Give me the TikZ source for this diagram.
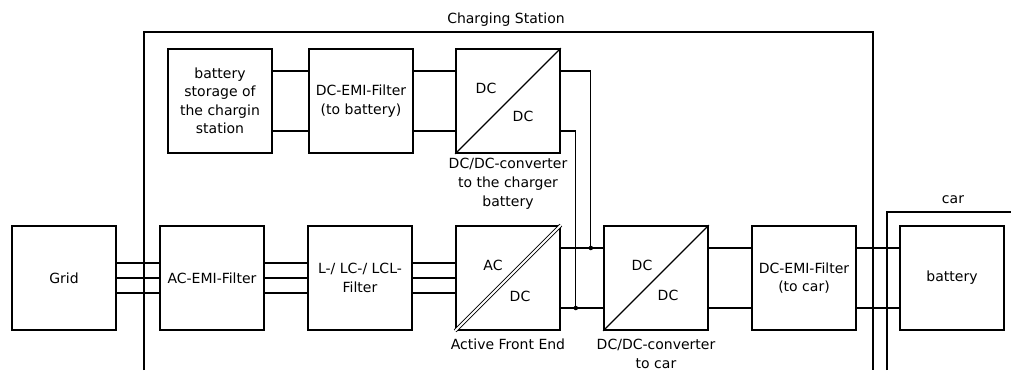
\documentclass[tikz,border=0pt]{standalone}
\usepackage{fontspec}
\setmainfont{DejaVu Sans}
\usetikzlibrary{positioning,calc}

\tikzset{
  block/.style={draw, line width=1.6pt, minimum width=104pt, minimum height=104pt,
    inner sep=2pt, align=center, font=\fontsize{14}{18.5}\selectfont},
  wire/.style={line width=1.3pt},
  caption/.style={inner sep=0pt, align=center, font=\fontsize{14}{19}\selectfont},
  junction/.style={circle, fill, inner sep=0pt, minimum size=4.5pt},
}

\begin{document}
\begin{tikzpicture}[x=1pt, y=-1pt, node distance=42.4pt]
    \useasboundingbox (0,0) rectangle (1011,370);

    % frames
    \draw[wire] (144,370) -- (144,32) -- (873,32) -- (873,370);
    \node[caption] (station) at (506,20) {Charging Station};
    \draw[wire] (887,370) |- (1011,212);
    \node[caption] (car) at (953,200) {car};

    % lower row
    \node[block] (grid) at (64,278) {Grid};
    \node[block, right=of grid] (acemi) {AC-EMI-Filter};
    \node[block, right=of acemi] (lcl) {L-/ LC-/ LCL-\\Filter};
    \node[block, right=of lcl] (afe) {};
    \node[block, right=of afe] (dccar) {};
    \node[block, right=of dccar] (emicar) {DC-EMI-Filter\\(to car)};
    \node[block, right=of emicar] (battery) {battery};

    % upper row
    \node[block, above=71.4pt of afe] (dcbat) {};
    \node[block, left=41.4pt of dcbat] (emibat) {DC-EMI-Filter\\(to battery)};
    \node[block, left=35.4pt of emibat] (storage) {battery\\storage of\\the chargin\\station};

    % converter marks
    \draw[wire] (dcbat.south west) -- (dcbat.north east);
    \draw[wire] (dccar.south west) -- (dccar.north east);
    \draw[line width=0.8pt, double, double distance=2pt] (afe.south west) -- (afe.north east);
    \node[caption] (dcbat-in) at ([xshift=-22pt, yshift=13pt]dcbat.center) {DC};
    \node[caption] (dcbat-out) at ([xshift=15pt, yshift=-15pt]dcbat.center) {DC};
    \node[caption] (afe-in) at ([xshift=-15pt, yshift=13pt]afe.center) {AC};
    \node[caption] (afe-out) at ([xshift=12pt, yshift=-18pt]afe.center) {DC};
    \node[caption] (dccar-in) at ([xshift=-14pt, yshift=13pt]dccar.center) {DC};
    \node[caption] (dccar-out) at ([xshift=12pt, yshift=-17pt]dccar.center) {DC};

    \node[caption, below=4pt of dcbat] (dcbat-cap) {DC/DC-converter\\to the charger\\battery};
    \node[caption, below=8pt of afe] (afe-cap) {Active Front End};
    \node[caption, below=8pt of dccar] (dccar-cap) {DC/DC-converter\\to car};

    % three-phase lines
    \foreach \a/\b in {grid/acemi, acemi/lcl, lcl/afe}
      \foreach \dy in {-15,0,15}
        \draw[wire] ([yshift=\dy pt]\a.east) -- ([yshift=\dy pt]\b.west);

    % dc lines
    \foreach \a/\b in {storage/emibat, emibat/dcbat, afe/dccar, dccar/emicar, emicar/battery}
      \foreach \dy in {-30,30}
        \draw[wire] ([yshift=\dy pt]\a.east) -- ([yshift=\dy pt]\b.west);

    \coordinate (jtop) at ([xshift=30pt, yshift=30pt]afe.east);
    \coordinate (jbot) at ([xshift=15pt, yshift=-30pt]afe.east);
    \draw[wire] ([yshift=30pt]dcbat.east) -| (jtop);
    \draw[wire] ([yshift=-30pt]dcbat.east) -| (jbot);
    \node[junction] (dot-top) at (jtop) {};
    \node[junction] (dot-bot) at (jbot) {};
\end{tikzpicture}
\end{document}
